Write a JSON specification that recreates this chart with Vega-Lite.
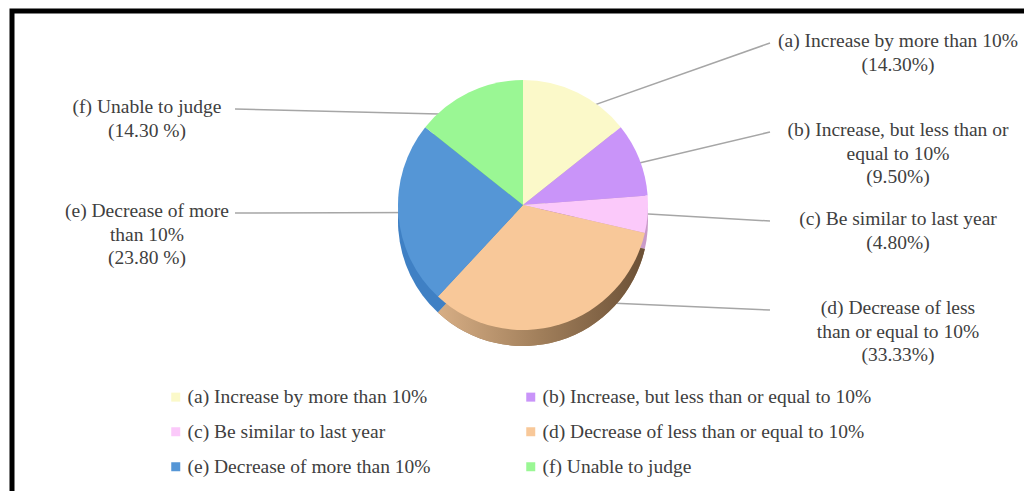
{
  "$schema": "https://vega.github.io/schema/vega-lite/v6.json",
  "autosize": {"type": "fit", "contains": "padding"},
  "width": 1024,
  "height": 491,
  "padding": {"left": 12, "top": 11, "right": -4, "bottom": -4},
  "background": "white",
  "config": {
    "view": {"stroke": "black", "strokeWidth": 5},
    "text": {"font": "Liberation Serif"},
    "legend": {"labelFont": "Liberation Serif"}
  },
  "data": {
    "values": [
      {"cat": "(a) Increase by more than 10%", "value": 14.3, "label": "(a) Increase by more than 10%\n(14.30%)"},
      {"cat": "(b) Increase, but less than or equal to 10%", "value": 9.5, "label": "(b) Increase, but less than or\nequal to 10%\n(9.50%)"},
      {"cat": "(c) Be similar to last year", "value": 4.8, "label": "(c) Be similar  to last year\n(4.80%)"},
      {"cat": "(d) Decrease of less than or equal to 10%", "value": 33.33, "label": "(d) Decrease of less\nthan or equal to 10%\n(33.33%)"},
      {"cat": "(e) Decrease of more than 10%", "value": 23.8, "label": "(e) Decrease of more\nthan 10%\n(23.80 %)"},
      {"cat": "(f) Unable to judge", "value": 14.3, "label": "(f) Unable to judge\n(14.30 %)"}
    ]
  },
  "transform": [
    {"joinaggregate": [{"op": "sum", "field": "value", "as": "total"}]},
    {"window": [{"op": "sum", "field": "value", "as": "cum"}], "sort": [{"field": "cat"}], "frame": [null, 0]},
    {"calculate": "2*PI*(datum.cum - datum.value/2)/datum.total", "as": "mid"},
    {"calculate": "sin(datum.mid)", "as": "s"},
    {"calculate": "cos(datum.mid)", "as": "c"},
    {"calculate": "datum.s > 0 ? 'R' : 'L'", "as": "side"},
    {"window": [{"op": "row_number", "as": "rank"}], "groupby": ["side"], "sort": [{"field": "c", "order": "descending"}]},
    {"calculate": "100*datum.s", "as": "px"},
    {"calculate": "100*datum.c", "as": "py"},
    {"calculate": "datum.side === 'R' ? 375 : -376", "as": "tx"},
    {"calculate": "datum.side === 'R' ? 162 - 89*(datum.rank-1) : 96 - 104*(datum.rank-1)", "as": "ty"},
    {"calculate": "datum.side === 'R' ? 247 : -288", "as": "ex"}
  ],
  "resolve": {"scale": {"color": "independent"}},
  "layer": [
    {
      "mark": {"type": "rule", "color": "#A6A6A6", "strokeWidth": 1.5},
      "encoding": {
        "x": {"field": "px", "type": "quantitative", "scale": {"domain": [-511, 505], "nice": false, "zero": false}, "axis": null},
        "y": {"field": "py", "type": "quantitative", "scale": {"domain": [-290, 194], "nice": false, "zero": false}, "axis": null},
        "x2": {"field": "ex"},
        "y2": {"field": "ty"}
      }
    },
    {
      "mark": {"type": "arc", "outerRadius": 125, "yOffset": 16},
      "encoding": {
        "x": {"datum": 0, "type": "quantitative", "scale": {"domain": [-511, 505], "nice": false, "zero": false}, "axis": null},
        "y": {"datum": 0, "type": "quantitative", "scale": {"domain": [-290, 194], "nice": false, "zero": false}, "axis": null},
        "theta": {"field": "value", "type": "quantitative", "stack": true},
        "color": {
          "field": "cat", "type": "nominal", "legend": null,
          "scale": {"range": ["#C9C69C", "#9A6BC4", "#C99AC8", "#9C7A55", "#3F80C4", "#6CC466"]}
        }
      }
    },
    {
      "mark": {
        "type": "arc", "outerRadius": 125, "yOffset": 16,
        "fill": {"gradient": "linear", "x1": 0, "x2": 1, "y1": 0, "y2": 0,
          "stops": [{"offset": 0, "color": "#D7AE85"}, {"offset": 0.5, "color": "#A07E5A"}, {"offset": 1, "color": "#6B5036"}]}
      },
      "encoding": {
        "x": {"datum": 0, "type": "quantitative", "scale": {"domain": [-511, 505], "nice": false, "zero": false}, "axis": null},
        "y": {"datum": 0, "type": "quantitative", "scale": {"domain": [-290, 194], "nice": false, "zero": false}, "axis": null},
        "theta": {"field": "value", "type": "quantitative", "stack": true},
        "opacity": {"condition": {"test": "datum.cat === '(d) Decrease of less than or equal to 10%'", "value": 1}, "value": 0}
      }
    },
    {
      "mark": {"type": "arc", "outerRadius": 125},
      "encoding": {
        "x": {"datum": 0, "type": "quantitative", "scale": {"domain": [-511, 505], "nice": false, "zero": false}, "axis": null},
        "y": {"datum": 0, "type": "quantitative", "scale": {"domain": [-290, 194], "nice": false, "zero": false}, "axis": null},
        "theta": {"field": "value", "type": "quantitative", "stack": true},
        "color": {
          "field": "cat", "type": "nominal",
          "scale": {"range": ["#FBF9C9", "#C994F9", "#FBC9FA", "#F8C899", "#5596D6", "#9AF794"]},
          "legend": {
            "title": null, "orient": "none", "legendX": 154, "legendY": 376,
            "values": ["(a) Increase by more than 10%", "(c) Be similar to last year", "(e) Decrease of more than 10%", "(b) Increase, but less than or equal to 10%", "(d) Decrease of less than or equal to 10%", "(f) Unable to judge"],
            "columns": 2, "columnPadding": 90, "rowPadding": 14,
            "symbolType": "square", "symbolSize": 81, "symbolStrokeWidth": 0,
            "labelFont": "Liberation Serif", "labelFontSize": 19.5, "labelColor": "#404040", "labelOffset": 2, "labelLimit": 400
          }
        }
      }
    },
    {
      "mark": {"type": "text", "align": "center", "baseline": "top", "dy": -11, "fontSize": 19.5, "lineHeight": 23.5, "lineBreak": "\n", "color": "#404040"},
      "encoding": {
        "x": {"field": "tx", "type": "quantitative", "scale": {"domain": [-511, 505], "nice": false, "zero": false}, "axis": null},
        "y": {"field": "ty", "type": "quantitative", "scale": {"domain": [-290, 194], "nice": false, "zero": false}, "axis": null},
        "text": {"field": "label"}
      }
    }
  ]
}
